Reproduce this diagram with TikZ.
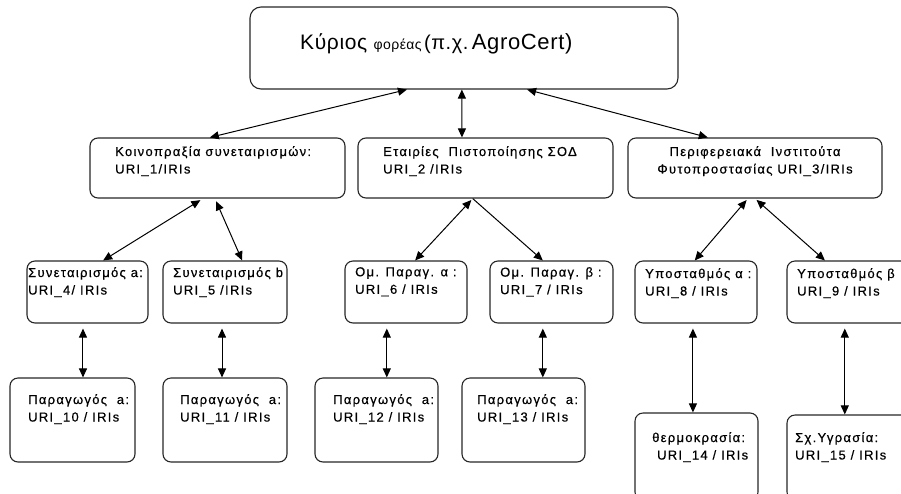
\documentclass[tikz,border=0pt]{standalone}
\usepackage{fontspec}
\setmainfont{Liberation Sans}
\newfontfamily\boxfont[LetterSpace=10,FakeBold=0.5]{Liberation Sans}
\usetikzlibrary{arrows.meta,calc}
\tikzset{
  x=1pt, y=-1pt,
  boxstyle/.style={draw=black!85, line width=1.1pt, rounded corners=8pt, inner sep=0pt},
  topbox/.style={boxstyle, rounded corners=11pt},
  txt/.style={inner sep=0pt, font=\boxfont\fontsize{13}{17.5}\selectfont, align=left},
  conn/.style={line width=1pt, {Triangle[length=9pt,width=8pt]}-{Triangle[length=9pt,width=8pt]}},
  connone/.style={line width=1pt, -{Triangle[length=9pt,width=8pt]}},
}
\newcommand{\bx}[5]{\node[boxstyle, minimum width=#4-#2, minimum height=#5-#3] (#1) at ({(#2+#4)/2},{(#3+#5)/2}) {};}
\begin{document}
\begin{tikzpicture}
\useasboundingbox (0,0) rectangle (901,493);
\clip (0,0) rectangle (901,493);
% boxes
\node[topbox, minimum width=428pt, minimum height=82pt] (top) at (464,48) {};
\bx{b1}{90}{138}{345}{198}
\bx{b2}{358}{138}{613}{198}
\bx{b3}{628}{138}{882}{198}
\bx{b4}{27}{261}{148}{323}
\bx{b5}{163}{261}{287}{323}
\bx{b6}{345}{261}{467}{323}
\bx{b7}{490}{261}{613}{323}
\bx{b8}{635}{261}{757}{323}
\bx{b9}{787}{261}{910}{323}
\bx{b10}{10}{378}{135}{462}
\bx{b11}{163}{378}{287}{462}
\bx{b12}{315}{378}{438}{462}
\bx{b13}{462}{378}{585}{462}
\bx{b14}{635}{413}{758}{500}
\bx{b15}{787}{415}{910}{500}
% texts
\node[inner sep=0pt, anchor=west] (t0) at (300,44) {\addfontfeatures{LetterSpace=3}\fontsize{21}{24}\selectfont Κύριος \fontsize{14}{15}\selectfont φορέας\,\fontsize{20}{24}\selectfont(π.χ.\,\fontsize{22}{24}\selectfont AgroCert)};
\node[txt, anchor=north west] (t1) at (115,146) {Κοινοπραξία συνεταιρισμών:\\URI\_1/IRIs};
\node[txt, anchor=north west] (t2) at (383,146) {Εταιρίες\ \ Πιστοποίησης ΣΟΔ\\URI\_2 /IRIs};
\node[txt, anchor=north, align=center] (t3) at (755,146) {Περιφερειακά\ \ Ινστιτούτα\\Φυτοπροστασίας URI\_3/IRIs};
\node[txt, anchor=north west] (t4) at (28,267) {Συνεταιρισμός a:\\URI\_4/ IRIs};
\node[txt, anchor=north west] (t5) at (173,267) {Συνεταιρισμός b\\URI\_5 /IRIs};
\node[txt, anchor=north west] (t6) at (355,267) {Ομ. Παραγ. α :\\URI\_6 / IRIs};
\node[txt, anchor=north west] (t7) at (500,267) {Ομ. Παραγ. β :\\URI\_7 / IRIs};
\node[txt, anchor=north west] (t8) at (645,268) {Υποσταθμός α :\\URI\_8 / IRIs};
\node[txt, anchor=north west] (t9) at (797,268) {Υποσταθμός β\\URI\_9 / IRIs};
\node[txt, anchor=north west] (t10) at (28,394) {Παραγωγός\ \ a:\\URI\_10 / IRIs};
\node[txt, anchor=north west] (t11) at (180,394) {Παραγωγός\ \ a:\\URI\_11 / IRIs};
\node[txt, anchor=north west] (t12) at (333,394) {Παραγωγός\ \ a:\\URI\_12 / IRIs};
\node[txt, anchor=north west] (t13) at (477,394) {Παραγωγός\ \ a:\\URI\_13 / IRIs};
\node[txt, anchor=north west] (t14) at (652,432) {θερμοκρασία:\\\ URI\_14 / IRIs};
\node[txt, anchor=north west] (t15) at (795,432) {Σχ.Υγρασία:\\URI\_15 / IRIs};
% connectors level 0-1
\draw[conn] ($(b1.north west)!0.47!(b1.north east)$) -- ($(top.south west)!0.367!(top.south east)$);
\draw[conn] ($(b2.north west)!0.408!(b2.north east)$) -- ($(top.south west)!0.495!(top.south east)$);
\draw[conn] ($(b3.north west)!0.315!(b3.north east)$) -- ($(top.south west)!0.647!(top.south east)$);
% level 1-2
\draw[conn, shorten <=3pt] ($(b1.south west)!0.443!(b1.south east)$) -- ($(b4.north west)!0.628!(b4.north east)$);
\draw[conn, shorten <=3pt] ($(b1.south west)!0.49!(b1.south east)$) -- ($(b5.north west)!0.637!(b5.north east)$);
\draw[conn, shorten <=2pt] ($(b2.south west)!0.45!(b2.south east)$) -- ($(b6.north west)!0.574!(b6.north east)$);
\draw[connone] ($(b2.south west)!0.45!(b2.south east)$) -- ($(b7.north west)!0.43!(b7.north east)$);
\draw[conn, shorten <=2pt] ($(b3.south west)!0.472!(b3.south east)$) -- ($(b8.north west)!0.49!(b8.north east)$);
\draw[conn, shorten <=2pt] ($(b3.south west)!0.5!(b3.south east)$) -- ($(b9.north west)!0.31!(b9.north east)$);
% level 2-3
\draw[conn, shorten <=5pt] ($(b4.south west)!0.463!(b4.south east)$) coordinate (p4) -- (p4 |- b10.north);
\draw[conn, shorten <=5pt] ($(b5.south west)!0.476!(b5.south east)$) coordinate (p5) -- (p5 |- b11.north);
\draw[conn, shorten <=5pt] ($(b6.south west)!0.344!(b6.south east)$) coordinate (p6) -- (p6 |- b12.north);
\draw[conn, shorten <=5pt] ($(b7.south west)!0.43!(b7.south east)$) coordinate (p7) -- (p7 |- b13.north);
\draw[conn, shorten <=5pt] ($(b8.south west)!0.475!(b8.south east)$) coordinate (p8) -- (p8 |- b14.north);
\draw[conn, shorten <=5pt] ($(b9.south west)!0.47!(b9.south east)$) coordinate (p9) -- (p9 |- b15.north);
\end{tikzpicture}
\end{document}
